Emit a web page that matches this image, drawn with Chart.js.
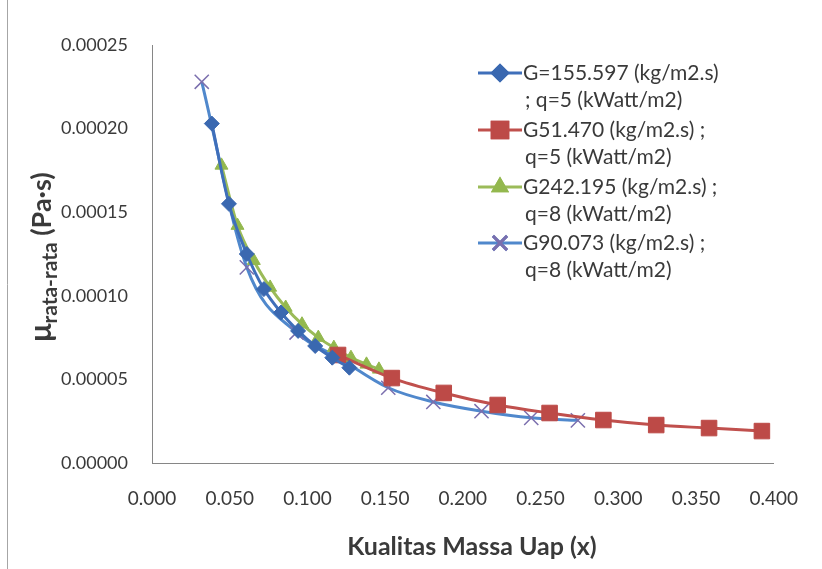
<!DOCTYPE html>
<html>
<head>
<meta charset="utf-8">
<script src="https://cdn.jsdelivr.net/npm/chart.js"></script>
<style>
  body { margin: 0; background: #fff; }
  #wrap { width: 822px; height: 569px; }
</style>
</head>
<body>
<div id="wrap"><canvas id="chart" width="822" height="569"></canvas></div>
<script>
// steam quality x and mean viscosity (Pa.s)
const seriesNames = [
  ["G=155.597 (kg/m2.s)", "; q=5 (kWatt/m2)"],
  ["G51.470 (kg/m2.s) ;", "q=5 (kWatt/m2)"],
  ["G242.195 (kg/m2.s) ;", "q=8 (kWatt/m2)"],
  ["G90.073 (kg/m2.s) ;", "q=8 (kWatt/m2)"]
];
const xG155 = [0.0385, 0.0495, 0.061, 0.072, 0.083, 0.094, 0.105, 0.116, 0.127];
const muG155 = [2.03e-4, 1.55e-4, 1.25e-4, 1.04e-4, 9.0e-5, 7.9e-5, 7.0e-5, 6.3e-5, 5.7e-5];
const xG51 = [0.1197, 0.1543, 0.1877, 0.2224, 0.2558, 0.2904, 0.3244, 0.3584, 0.3924];
const muG51 = [6.46e-5, 5.08e-5, 4.19e-5, 3.47e-5, 2.99e-5, 2.57e-5, 2.27e-5, 2.09e-5, 1.91e-5];
const xG242 = [0.0447, 0.055, 0.0655, 0.076, 0.086, 0.0965, 0.107, 0.117, 0.128, 0.138, 0.146];
const muG242 = [1.78e-4, 1.42e-4, 1.21e-4, 1.05e-4, 9.3e-5, 8.3e-5, 7.5e-5, 6.9e-5, 6.3e-5, 5.9e-5, 5.6e-5];
const xG90 = [0.032, 0.061, 0.093, 0.120, 0.152, 0.181, 0.212, 0.244, 0.274];
const muG90 = [2.28e-4, 1.17e-4, 7.8e-5, 6.3e-5, 4.5e-5, 3.65e-5, 3.1e-5, 2.7e-5, 2.55e-5];
const xTicks = [0, 0.05, 0.1, 0.15, 0.2, 0.25, 0.3, 0.35, 0.4];
const yTicks = [0, 0.00005, 0.0001, 0.00015, 0.0002, 0.00025];

const FONT = "Lato, 'Open Sans', sans-serif";
const TXT = "#3a3a3a";

const toPoints = (xs, ys) => xs.map((x, i) => ({ x: x, y: ys[i] }));

const styles = [
  { line: "#3f6fba", fill: "#3a68b0", shape: "rectRot", r: 7.5 },
  { line: "#c0504d", fill: "#bd4a47", shape: "rect", r: 11 },
  { line: "#9bbb59", fill: "#93b84e", shape: "triangle", r: 7.5 },
  { line: "#5088cc", fill: "#7b6fae", shape: "crossRot", r: 10 }
];
const pairs = [[xG155, muG155], [xG51, muG51], [xG242, muG242], [xG90, muG90]];

const datasets = pairs.map((p, i) => ({
  label: seriesNames[i].join(" "),
  data: toPoints(p[0], p[1]),
  showLine: true,
  borderColor: styles[i].line,
  borderWidth: 3,
  cubicInterpolationMode: "monotone",
  pointStyle: styles[i].shape,
  pointRadius: styles[i].r,
  pointBackgroundColor: styles[i].fill,
  pointBorderColor: styles[i].fill,
  pointBorderWidth: styles[i].shape === "crossRot" ? 1.5 : 1
}));

// legend, axis titles and frame line
const extras = {
  id: "extras",
  afterDraw(chart) {
    const ctx = chart.ctx;
    ctx.save();
    // frame edge on the left
    ctx.strokeStyle = "#a6a6a6";
    ctx.lineWidth = 1;
    ctx.beginPath();
    ctx.moveTo(7.5, 0);
    ctx.lineTo(7.5, 569);
    ctx.stroke();

    // legend
    const top = [73, 130, 187, 243];
    for (let i = 0; i < 4; i++) {
      const y = top[i];
      ctx.strokeStyle = styles[i].line;
      ctx.lineWidth = 3;
      ctx.beginPath();
      ctx.moveTo(478, y);
      ctx.lineTo(522, y);
      ctx.stroke();
      Chart.helpers.drawPoint(ctx, {
        pointStyle: styles[i].shape,
        radius: styles[i].r,
        borderWidth: styles[i].shape === "crossRot" ? 1.5 : 1,
        rotation: 0
      }, 500, y);
      ctx.fillStyle = styles[i].fill;
      ctx.strokeStyle = styles[i].fill;
      ctx.fill();
      ctx.stroke();
      ctx.fillStyle = TXT;
      ctx.font = "21px " + FONT;
      ctx.textBaseline = "middle";
      ctx.textAlign = "left";
      ctx.fillText(seriesNames[i][0], 523, y);
      ctx.fillText(seriesNames[i][1], 525, y + 27);
    }

    // x title
    ctx.fillStyle = TXT;
    ctx.font = "bold 25px " + FONT;
    ctx.textAlign = "center";
    ctx.textBaseline = "middle";
    ctx.fillText("Kualitas Massa Uap (x)", 472, 547);

    // y title with subscript
    ctx.translate(46, 257);
    ctx.rotate(-Math.PI / 2);
    const bigF = "bold 30px " + FONT;
    const subF = "bold 21px " + FONT;
    const titF = "bold 27px " + FONT;
    ctx.font = bigF; const w1 = ctx.measureText("\u03bc").width;
    ctx.font = subF; const w2 = ctx.measureText("rata-rata").width;
    ctx.font = titF; const w3 = ctx.measureText(" (Pa\u00b7s)").width;
    let x0 = -(w1 + w2 + w3) / 2;
    ctx.textAlign = "left";
    ctx.textBaseline = "alphabetic";
    ctx.font = bigF; ctx.fillText("\u03bc", x0, 5);
    ctx.font = subF; ctx.fillText("rata-rata", x0 + w1, 11);
    ctx.font = titF; ctx.fillText(" (Pa\u00b7s)", x0 + w1 + w2, 5);
    ctx.restore();
  }
};

new Chart(document.getElementById("chart"), {
  type: "scatter",
  data: { datasets: datasets },
  plugins: [extras],
  options: {
    responsive: false,
    animation: false,
    layout: { padding: { top: 45, right: 35, left: 0, bottom: 0 } },
    plugins: { legend: { display: false }, tooltip: { enabled: false } },
    scales: {
      x: {
        type: "linear",
        min: xTicks[0],
        max: xTicks[xTicks.length - 1],
        afterBuildTicks: (s) => { s.ticks = xTicks.map(v => ({ value: v })); },
        ticks: { callback: (v) => Number(v).toFixed(3), font: { family: FONT, size: 19 }, color: TXT, padding: 24, maxRotation: 0 },
        grid: { display: false, drawTicks: false },
        border: { color: "#868686", width: 1 },
        afterFit: (s) => { s.height = 106; }
      },
      y: {
        min: yTicks[0],
        max: yTicks[yTicks.length - 1],
        afterBuildTicks: (s) => { s.ticks = yTicks.map(v => ({ value: v })); },
        ticks: { callback: (v) => Number(v).toFixed(5), font: { family: FONT, size: 18 }, color: TXT, padding: 24 },
        grid: { display: false, drawTicks: false },
        border: { color: "#868686", width: 1 },
        afterFit: (s) => { s.width = 152; }
      }
    }
  }
});
</script>
</body>
</html>
